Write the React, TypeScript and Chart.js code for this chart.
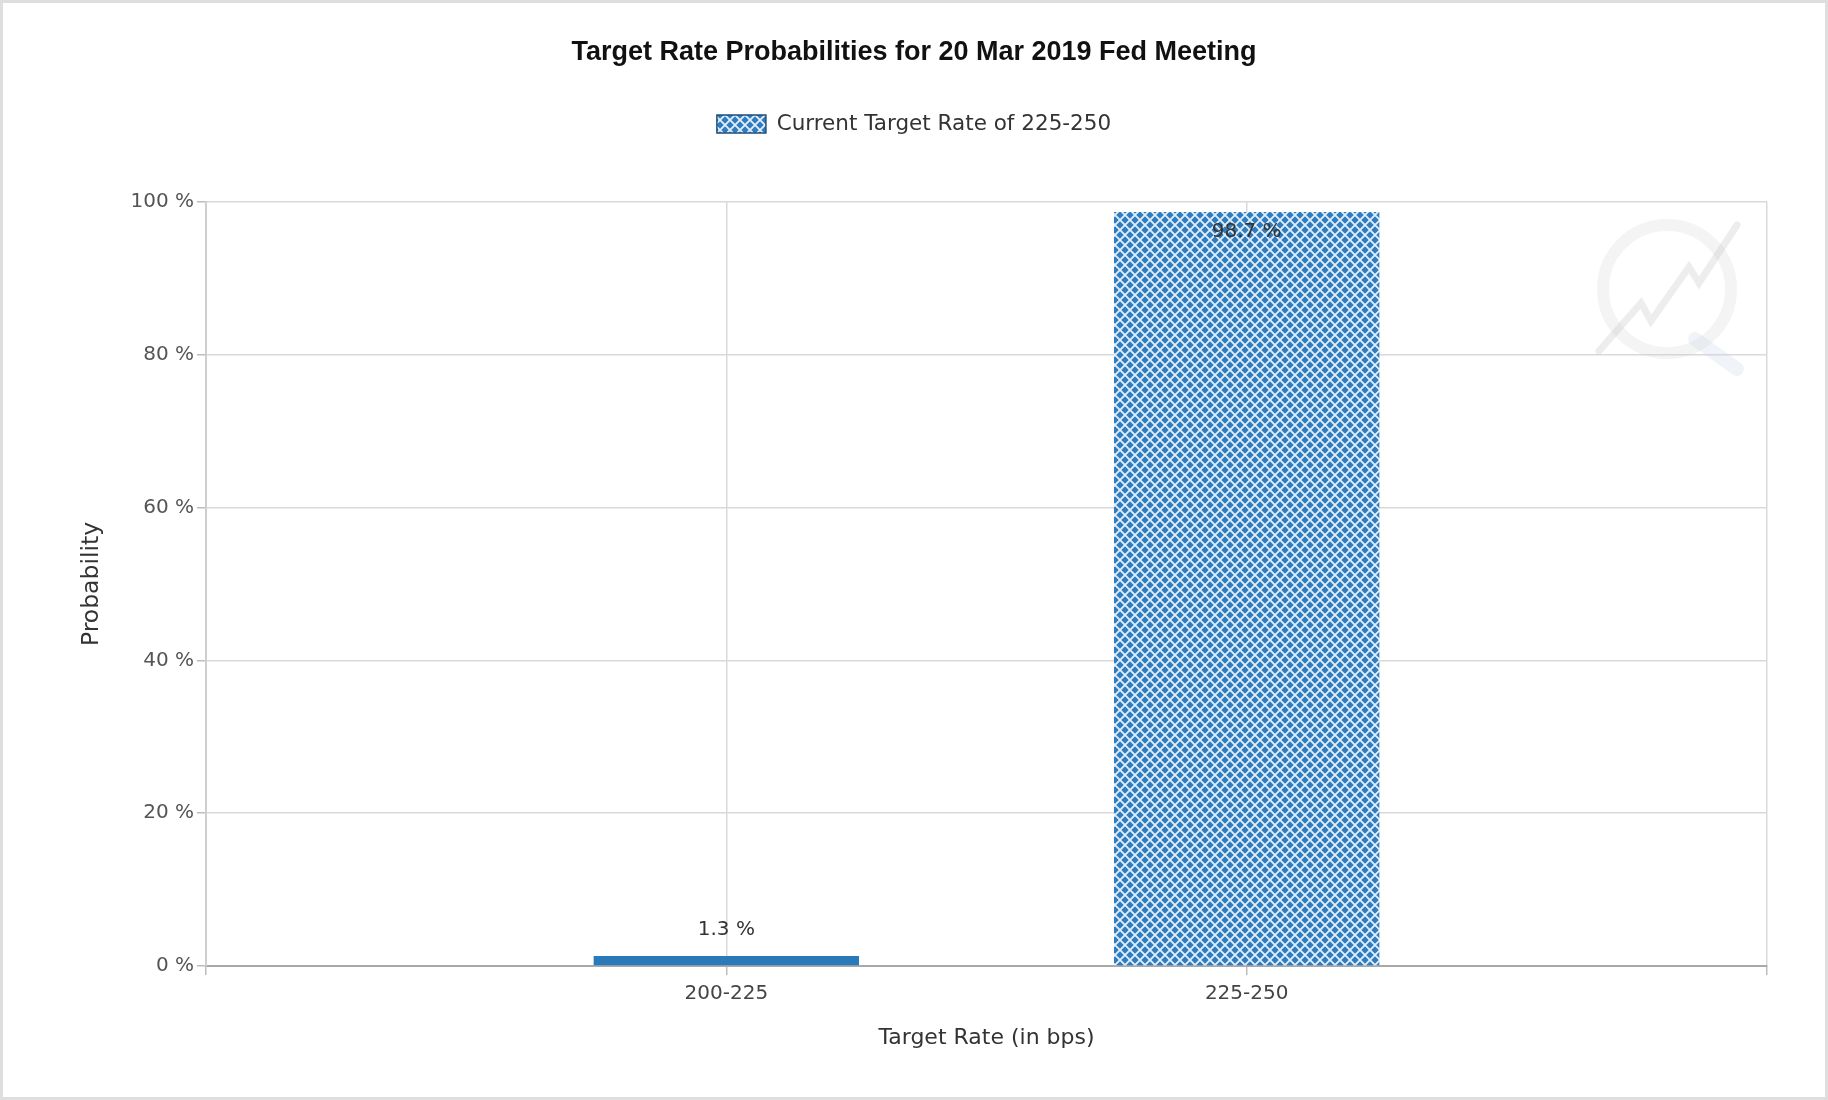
import React, { useEffect, useRef } from 'react';
import { Chart, registerables } from 'chart.js';

Chart.register(...registerables);

// ---------- data ----------
const TITLE = 'Target Rate Probabilities for 20 Mar 2019 Fed Meeting';
const SERIES_LABEL = 'Current Target Rate of 225-250';
const CATEGORIES = ['200-225', '225-250'];
const CATEGORY_POSITIONS = [1, 2];
const PROBABILITIES = [1.3, 98.7];
const CURRENT_INDEX = 1;
const Y_TICKS = [0, 20, 40, 60, 80, 100];
const X_TITLE = 'Target Rate (in bps)';
const Y_TITLE = 'Probability';

// ---------- styles ----------
const W = 1828;
const H = 1100;
const FONT = "'DejaVu Sans', 'Liberation Sans', sans-serif";
const TITLE_FONT = "'Liberation Sans', Arial, sans-serif";
const SOLID_BLUE = '#2a79b9';
const HATCH_BLUE = '#2f7dbf';
const LEGEND_GAP = 57.25;

function makePattern(ctx: CanvasRenderingContext2D): CanvasPattern | string {
  const c = document.createElement('canvas');
  c.width = 10;
  c.height = 10;
  const g = c.getContext('2d');
  if (!g) return HATCH_BLUE;
  g.fillStyle = HATCH_BLUE;
  g.fillRect(0, 0, 10, 10);
  g.strokeStyle = 'rgba(238,246,255,0.95)';
  g.lineWidth = 1.8;
  g.beginPath();
  g.moveTo(-2, -2);
  g.lineTo(12, 12);
  g.moveTo(12, -2);
  g.lineTo(-2, 12);
  g.stroke();
  return ctx.createPattern(c, 'repeat') || HATCH_BLUE;
}

const frameAndBackground = {
  id: 'frameAndBackground',
  beforeDraw(chart: any) {
    const { ctx, width, height } = chart;
    ctx.save();
    ctx.fillStyle = '#ffffff';
    ctx.fillRect(0, 0, width, height);
    ctx.strokeStyle = '#dedede';
    ctx.lineWidth = 3;
    ctx.strokeRect(1.5, 1.5, width - 3, height - 3);
    ctx.restore();
  },
};

const legendSpacer = {
  id: 'legendSpacer',
  beforeLayout(chart: any) {
    const l = chart.legend;
    if (l && !l.__patched) {
      const orig = l.fit;
      l.fit = function () {
        orig.call(this);
        this.height += LEGEND_GAP;
      };
      l.__patched = true;
    }
  },
};

const watermark = {
  id: 'watermark',
  beforeDatasetsDraw(chart: any) {
    const { ctx, chartArea } = chart;
    const cx = chartArea.right - 100;
    const cy = chartArea.top + 87;
    ctx.save();
    ctx.lineCap = 'round';
    ctx.strokeStyle = 'rgba(205,205,205,0.22)';
    ctx.lineWidth = 12;
    ctx.beginPath();
    ctx.arc(cx, cy, 64, 0, Math.PI * 2);
    ctx.stroke();
    ctx.strokeStyle = 'rgba(200,215,235,0.28)';
    ctx.lineWidth = 14;
    ctx.beginPath();
    ctx.moveTo(cx + 28, cy + 50);
    ctx.lineTo(cx + 70, cy + 80);
    ctx.stroke();
    ctx.strokeStyle = 'rgba(190,190,190,0.28)';
    ctx.lineWidth = 7;
    ctx.beginPath();
    ctx.moveTo(cx - 68, cy + 62);
    ctx.lineTo(cx - 26, cy + 14);
    ctx.lineTo(cx - 16, cy + 32);
    ctx.lineTo(cx + 22, cy - 22);
    ctx.lineTo(cx + 32, cy - 6);
    ctx.lineTo(cx + 70, cy - 64);
    ctx.stroke();
    ctx.restore();
  },
};

const valueLabels = {
  id: 'valueLabels',
  afterDatasetsDraw(chart: any) {
    const { ctx, chartArea } = chart;
    const meta = chart.getDatasetMeta(0);
    ctx.save();
    ctx.font = `20px ${FONT}`;
    ctx.fillStyle = '#333333';
    ctx.textAlign = 'center';
    ctx.textBaseline = 'middle';
    meta.data.forEach((bar: any, i: number) => {
      let y = bar.y - 26;
      if (y < chartArea.top + 30) y = chartArea.top + 30;
      ctx.fillText(`${PROBABILITIES[i]} %`, bar.x, y);
    });
    ctx.restore();
  },
};

export default function App() {
  const ref = useRef<HTMLCanvasElement | null>(null);

  useEffect(() => {
    const canvas = ref.current;
    if (!canvas) return;
    const ctx = canvas.getContext('2d');
    if (!ctx) return;
    const pattern = makePattern(ctx);

    const chart = new Chart(ctx, {
      type: 'bar',
      data: {
        datasets: [
          {
            label: SERIES_LABEL,
            data: CATEGORY_POSITIONS.map((x, i) => ({ x, y: PROBABILITIES[i] })),
            backgroundColor: PROBABILITIES.map((_, i) => (i === CURRENT_INDEX ? pattern : SOLID_BLUE)) as any,
            borderWidth: 0,
            categoryPercentage: 1,
            barPercentage: 0.51,
          },
        ],
      },
      options: {
        animation: false,
        responsive: false,
        devicePixelRatio: 1,
        layout: { padding: { top: 0, left: 61, right: 61, bottom: 20 } },
        plugins: {
          tooltip: { enabled: false },
          title: {
            display: true,
            text: TITLE,
            color: '#111111',
            font: { family: TITLE_FONT, size: 27, weight: 'bold' },
            padding: { top: 36.8, bottom: 0 },
          },
          legend: {
            display: true,
            position: 'top',
            labels: {
              boxWidth: 49,
              boxHeight: 18,
              padding: 44.05,
              color: '#333333',
              font: { family: FONT, size: 21.5 },
              generateLabels: () => [
                {
                  text: SERIES_LABEL,
                  fillStyle: pattern as any,
                  strokeStyle: '#1f4e79',
                  lineWidth: 1.5,
                  hidden: false,
                  datasetIndex: 0,
                  fontColor: '#333333',
                } as any,
              ],
            },
          },
        },
        scales: {
          x: {
            type: 'linear',
            offset: false,
            min: 0,
            max: CATEGORIES.length + 1,
            afterBuildTicks: (s: any) => {
              s.ticks = [0, ...CATEGORY_POSITIONS, CATEGORIES.length + 1].map((value) => ({ value }));
            },
            ticks: {
              autoSkip: false,
              maxRotation: 0,
              padding: 7,
              color: '#444444',
              font: { family: FONT, size: 20 },
              callback: (v: any) => {
                const i = CATEGORY_POSITIONS.indexOf(Number(v));
                return i >= 0 ? CATEGORIES[i] : '';
              },
            },
            grid: { offset: false, color: '#d9d9d9', lineWidth: 1.5, tickLength: 9, tickColor: '#bdbdbd' },
            border: { color: '#a9a9a9', width: 2 },
            title: {
              display: true,
              text: X_TITLE,
              color: '#333333',
              font: { family: FONT, size: 22 },
              padding: { top: 0, bottom: 28.5 },
            },
            afterFit: (s: any) => {
              s.height = 114;
            },
          },
          y: {
            type: 'linear',
            min: 0,
            max: 100,
            afterBuildTicks: (s: any) => {
              s.ticks = Y_TICKS.map((value) => ({ value }));
            },
            ticks: {
              padding: 3,
              color: '#555555',
              font: { family: FONT, size: 20 },
              callback: (v: any) => `${v} %`,
            },
            grid: { color: '#d9d9d9', lineWidth: 1.5, tickLength: 9, tickColor: '#bdbdbd' },
            border: { color: '#cfcfcf', width: 2 },
            title: {
              display: true,
              text: Y_TITLE,
              color: '#333333',
              font: { family: FONT, size: 23.5 },
              padding: { top: 17, bottom: 0 },
            },
            afterFit: (s: any) => {
              s.width = 145;
            },
          },
        },
      },
      plugins: [frameAndBackground, legendSpacer, watermark, valueLabels],
    } as any);

    return () => chart.destroy();
  }, []);

  return (
    <div style={{ position: 'absolute', left: 0, top: 0, width: W, height: H, background: '#fff' }}>
      <canvas ref={ref} width={W} height={H} style={{ display: 'block', width: W, height: H }} />
    </div>
  );
}
